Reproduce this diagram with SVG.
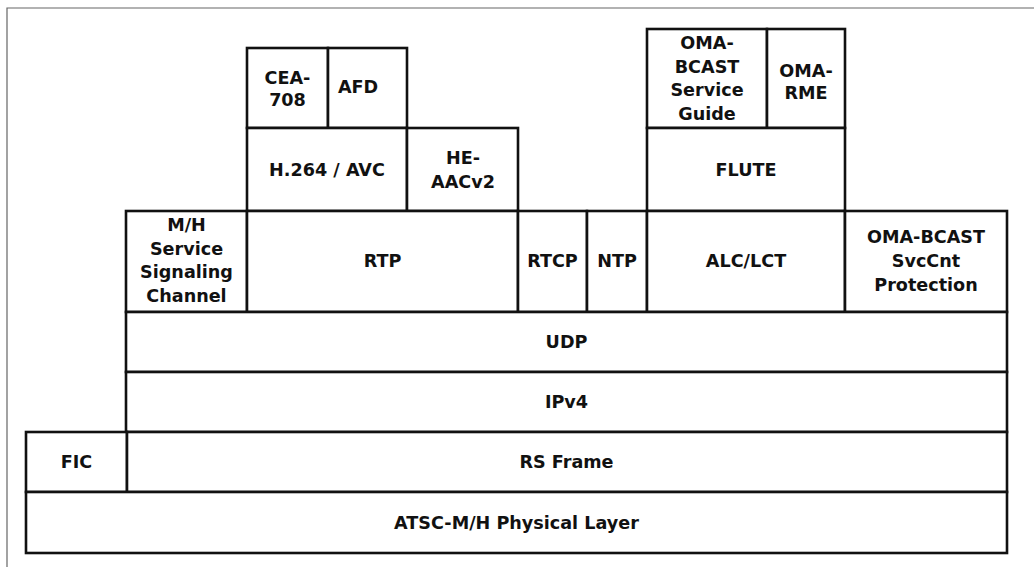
<svg xmlns="http://www.w3.org/2000/svg" width="1034" height="567" viewBox="0 0 1034 567">
<style>
.box{fill:#fff;stroke:#111;stroke-width:2.6}
.t{font-family:"DejaVu Sans","Verdana",sans-serif;font-weight:bold;font-size:17.6px;fill:#111;text-anchor:middle}
.frame{fill:none;stroke:#666;stroke-width:1.2}
</style>
<rect x="0" y="0" width="1034" height="567" fill="#fff"/>
<polyline class="frame" points="7,567 7,8 1034,8"/>
<g id="connectors"></g>
<g id="cea708"><rect class="box" x="247" y="48" width="81" height="80"/><text class="t" x="287.5" y="84">CEA-<tspan x="287.5" dy="22">708</tspan></text></g>
<g id="afd"><rect class="box" x="328" y="48" width="79" height="80"/><text class="t" x="358" y="93">AFD</text></g>
<g id="h264"><rect class="box" x="247" y="128" width="160" height="83"/><text class="t" x="327" y="176">H.264 / AVC</text></g>
<g id="heaac"><rect class="box" x="407" y="128" width="111" height="83"/><text class="t" x="463" y="164">HE-<tspan x="463" dy="24">AACv2</tspan></text></g>
<g id="omasg"><rect class="box" x="647" y="29" width="120" height="99"/><text class="t" x="707" y="49">OMA-<tspan x="707" dy="23.5">BCAST</tspan><tspan x="707" dy="23.5">Service</tspan><tspan x="707" dy="23.5">Guide</tspan></text></g>
<g id="omarme"><rect class="box" x="767" y="29" width="78" height="99"/><text class="t" x="806" y="77">OMA-<tspan x="806" dy="22">RME</tspan></text></g>
<g id="flute"><rect class="box" x="647" y="128" width="198" height="83"/><text class="t" x="746" y="176">FLUTE</text></g>
<g id="mhssc"><rect class="box" x="126" y="211" width="121" height="101"/><text class="t" x="186.5" y="231">M/H<tspan x="186.5" dy="23.5">Service</tspan><tspan x="186.5" dy="23.5">Signaling</tspan><tspan x="186.5" dy="23.5">Channel</tspan></text></g>
<g id="rtp"><rect class="box" x="247" y="211" width="271" height="101"/><text class="t" x="382.5" y="267">RTP</text></g>
<g id="rtcp"><rect class="box" x="518" y="211" width="69" height="101"/><text class="t" x="552.5" y="267">RTCP</text></g>
<g id="ntp"><rect class="box" x="587" y="211" width="60" height="101"/><text class="t" x="617" y="267">NTP</text></g>
<g id="alclct"><rect class="box" x="647" y="211" width="198" height="101"/><text class="t" x="746" y="267">ALC/LCT</text></g>
<g id="omasvc"><rect class="box" x="845" y="211" width="162" height="101"/><text class="t" x="926" y="243">OMA-BCAST<tspan x="926" dy="24">SvcCnt</tspan><tspan x="926" dy="24">Protection</tspan></text></g>
<g id="udp"><rect class="box" x="126" y="312" width="881" height="60"/><text class="t" x="566.5" y="348">UDP</text></g>
<g id="ipv4"><rect class="box" x="126" y="372" width="881" height="60"/><text class="t" x="566.5" y="408">IPv4</text></g>
<g id="fic"><rect class="box" x="26" y="432" width="101" height="60"/><text class="t" x="76.5" y="468">FIC</text></g>
<g id="rsframe"><rect class="box" x="127" y="432" width="880" height="60"/><text class="t" x="566.5" y="468">RS Frame</text></g>
<g id="phys"><rect class="box" x="26" y="492" width="981" height="61"/><text class="t" x="516.5" y="529">ATSC-M/H Physical Layer</text></g>
</svg>
